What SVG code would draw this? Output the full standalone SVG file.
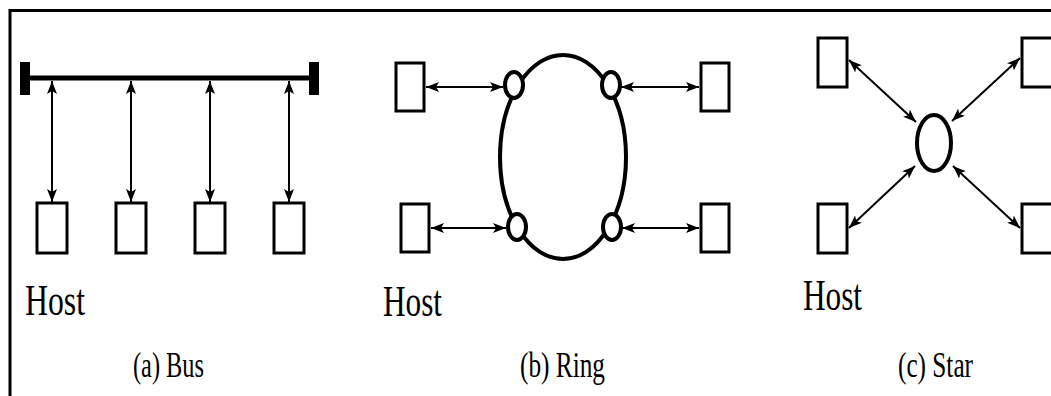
<svg xmlns="http://www.w3.org/2000/svg" width="1051" height="396" viewBox="0 0 1051 396">
<style>
.box{fill:#fff;stroke:#000;stroke-width:3}
.conn{stroke:#000;stroke-width:2;fill:none;marker-start:url(#ah);marker-end:url(#ah)}
.ring{fill:none;stroke:#000;stroke-width:4}
.node{fill:#fff;stroke:#000;stroke-width:4}
.lbl{fill:#000}
</style>
<defs>
<marker id="ah" viewBox="0 0 13 10" refX="13" refY="5" markerWidth="13" markerHeight="10" markerUnits="userSpaceOnUse" orient="auto-start-reverse">
<path d="M0,0 L13,5 L0,10 L3,5 z" fill="#000"/>
</marker>
</defs>
<rect width="1051" height="396" fill="#fff"/>
<path d="M10,396 V10.5 H1051" fill="none" stroke="#000" stroke-width="3"/>

<!-- Bus -->
<g id="bus">
<line x1="28" y1="78" x2="312" y2="78" stroke="#000" stroke-width="5"/>
<rect x="20" y="62" width="10" height="33" fill="#000"/>
<rect x="309" y="62" width="10" height="33" fill="#000"/>
</g>
<g id="bus-host1"><rect class="box" x="37" y="203" width="30" height="50"/></g>
<g id="bus-host2"><rect class="box" x="116" y="203" width="30" height="50"/></g>
<g id="bus-host3"><rect class="box" x="195" y="203" width="30" height="50"/></g>
<g id="bus-host4"><rect class="box" x="274" y="203" width="30" height="50"/></g>

<!-- Ring -->
<g id="ring"><ellipse class="ring" cx="563" cy="157" rx="63" ry="102"/></g>
<g id="ring-node1"><ellipse class="node" cx="514" cy="85" rx="9" ry="13"/></g>
<g id="ring-node2"><ellipse class="node" cx="611" cy="85" rx="9" ry="13"/></g>
<g id="ring-node3"><ellipse class="node" cx="517" cy="227" rx="9" ry="13"/></g>
<g id="ring-node4"><ellipse class="node" cx="612" cy="227" rx="9" ry="13"/></g>
<g id="ring-host1"><rect class="box" x="396" y="63" width="28" height="48"/></g>
<g id="ring-host2"><rect class="box" x="701" y="63" width="28" height="48"/></g>
<g id="ring-host3"><rect class="box" x="401" y="204" width="28" height="48"/></g>
<g id="ring-host4"><rect class="box" x="701" y="204" width="28" height="48"/></g>

<!-- Star -->
<g id="star-hub"><ellipse class="ring" cx="934" cy="143" rx="17" ry="28"/></g>
<g id="star-host1"><rect class="box" x="818" y="38" width="29" height="49"/></g>
<g id="star-host2"><rect class="box" x="1022" y="38" width="40" height="49"/></g>
<g id="star-host3"><rect class="box" x="818" y="204" width="29" height="49"/></g>
<g id="star-host4"><rect class="box" x="1022" y="204" width="40" height="49"/></g>

<g id="connectors">
<line class="conn" x1="52" y1="81" x2="52" y2="202"/>
<line class="conn" x1="131" y1="81" x2="131" y2="202"/>
<line class="conn" x1="210" y1="81" x2="210" y2="202"/>
<line class="conn" x1="289" y1="81" x2="289" y2="202"/>
<line class="conn" x1="426" y1="87" x2="503" y2="87"/>
<line class="conn" x1="621" y1="87" x2="699" y2="87"/>
<line class="conn" x1="431" y1="228" x2="506" y2="228"/>
<line class="conn" x1="622" y1="228" x2="699" y2="228"/>
<line class="conn" x1="849" y1="60" x2="916" y2="122"/>
<line class="conn" x1="1020" y1="58" x2="952" y2="121"/>
<line class="conn" x1="849" y1="228" x2="915" y2="166"/>
<line class="conn" x1="953" y1="166" x2="1020" y2="228"/>
</g>

<g id="labels" font-family="'Liberation Serif', 'DejaVu Serif', serif">
<text class="lbl" x="25" y="315" font-size="45" textLength="60" lengthAdjust="spacingAndGlyphs">Host</text>
<text class="lbl" x="383" y="316" font-size="45" textLength="59" lengthAdjust="spacingAndGlyphs">Host</text>
<text class="lbl" x="803" y="310" font-size="45" textLength="59" lengthAdjust="spacingAndGlyphs">Host</text>
<text class="lbl" x="133" y="377" font-size="35" textLength="71" lengthAdjust="spacingAndGlyphs">(a) Bus</text>
<text class="lbl" x="520" y="377" font-size="35" textLength="85" lengthAdjust="spacingAndGlyphs">(b) Ring</text>
<text class="lbl" x="898" y="377" font-size="35" textLength="75" lengthAdjust="spacingAndGlyphs">(c) Star</text>
</g>
</svg>
